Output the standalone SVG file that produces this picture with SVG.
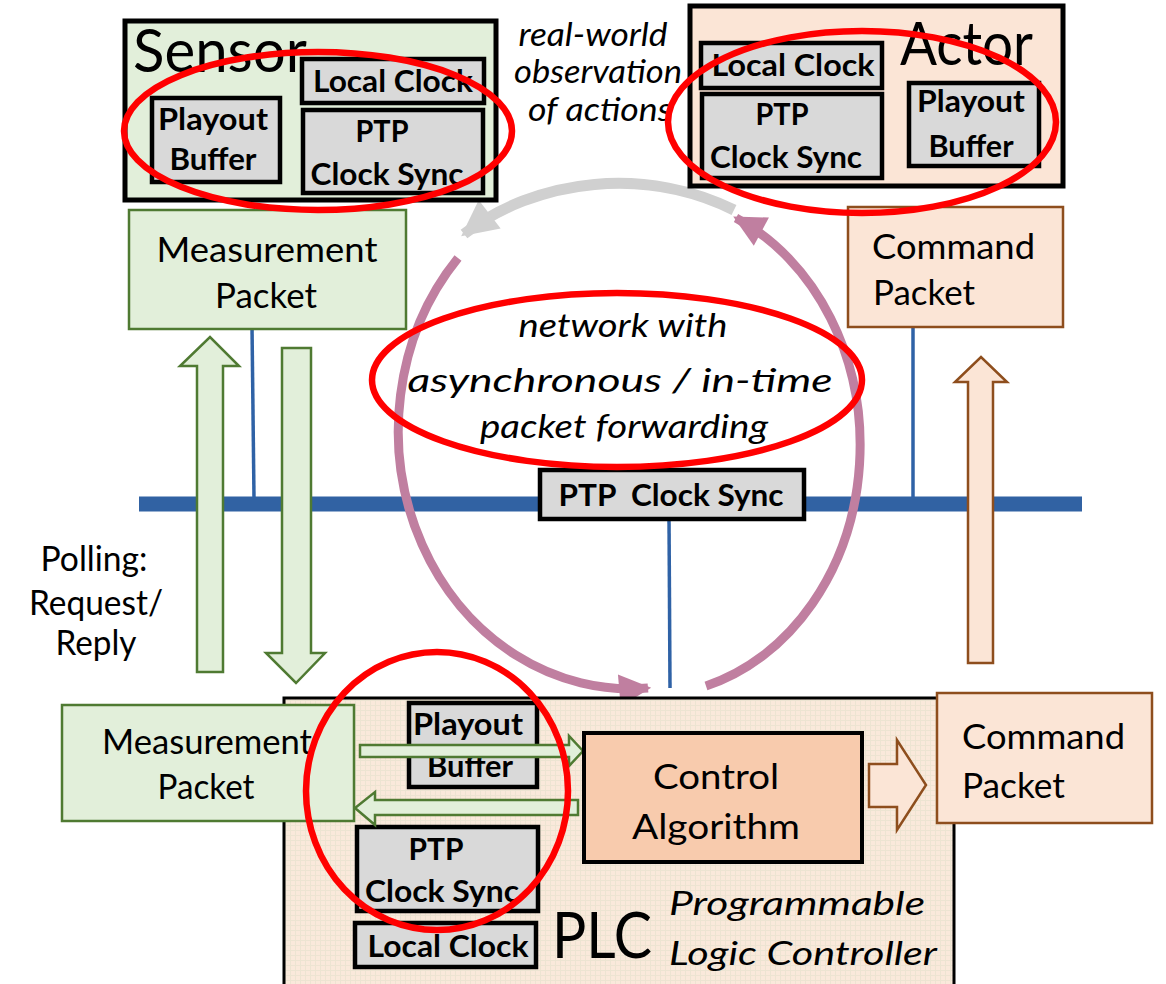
<svg xmlns="http://www.w3.org/2000/svg" width="1166" height="984" viewBox="0 0 1166 984">
<style>
text{font-family:Lato,"Open Sans","Liberation Sans",sans-serif;fill:#000}
.big{font-size:60px}
.bx{font-size:30px;font-weight:bold;text-anchor:middle}
.pk{font-size:34px}
.pkc{font-size:34px;text-anchor:middle}
.it{font-style:italic;font-size:33px}
.itc{font-style:italic;font-size:33px;text-anchor:middle}
.gbox{fill:#d9d9d9;stroke:#000;stroke-width:4.5}
.green{fill:#e2efda;stroke:#4f7a32;stroke-width:2.5}
.peach{fill:#fbe5d6;stroke:#8e4e1d;stroke-width:2.5}
.bline{stroke:#2f62a6;stroke-width:3.5;fill:none}
.red{fill:none;stroke:#ff0000;stroke-width:6.5}
.pink{fill:none;stroke:#c07fa0;stroke-width:9}
</style>
<defs>
<pattern id="grid" width="5" height="5" patternUnits="userSpaceOnUse">
<rect width="5" height="5" fill="#fae9db"/>
<path d="M0 0.5H5M0.5 0V5" stroke="#ede4d2" stroke-width="1"/>
</pattern>
<marker id="pinkhead" viewBox="0 0 10 10" refX="9" refY="5" markerUnits="userSpaceOnUse" markerWidth="36" markerHeight="32" orient="auto">
<path d="M0 0L10 5L0 10z" fill="#c07fa0"/>
</marker>
<marker id="grayhead" viewBox="0 0 10 10" refX="9" refY="5" markerUnits="userSpaceOnUse" markerWidth="38" markerHeight="36" orient="auto">
<path d="M0 0L10 5L0 10z" fill="#d0d0d0"/>
</marker>
</defs>

<rect width="1166" height="984" fill="#fff"/>

<!-- network bus and links -->
<g id="connectors">
<line x1="139" y1="504" x2="1082" y2="504" stroke="#3162a3" stroke-width="15"/>
<line class="bline" x1="252" y1="326" x2="254" y2="498"/>
<line class="bline" x1="913" y1="327" x2="913" y2="498"/>
<line class="bline" x1="669" y1="518" x2="670" y2="688"/>
<!-- block arrows -->
<polygon class="green" points="197,672 223,672 223,366 239,366 210,337 180,366 197,366"/>
<polygon class="green" points="282,348 311,348 311,653 325,653 296,683 266,653 282,653"/>
<polygon class="peach" points="968,663 993,663 993,382 1007,382 981,357 955,382 968,382"/>
<!-- circular flow -->
<path d="M734 210 A232 200 0 0 0 464 234" stroke="#d0d0d0" stroke-width="11" fill="none" marker-end="url(#grayhead)"/>
<path class="pink" d="M458 258 A232 258 0 0 0 648 688" marker-end="url(#pinkhead)"/>
<path class="pink" d="M706 686 A212 250 0 0 0 736 218" marker-end="url(#pinkhead)"/>
</g>

<!-- Sensor -->
<g id="sensor">
<rect x="125" y="21" width="371" height="179" fill="#e2efda" stroke="#000" stroke-width="5"/>
<text class="big" x="133" y="72" textLength="174" lengthAdjust="spacingAndGlyphs">Sensor</text>
<rect class="gbox" x="302" y="59" width="182" height="44"/>
<text class="bx" x="393" y="92" textLength="160" lengthAdjust="spacingAndGlyphs">Local Clock</text>
<rect class="gbox" x="152" y="98" width="128" height="84"/>
<text class="bx" x="213" y="130" textLength="110" lengthAdjust="spacingAndGlyphs">Playout</text>
<text class="bx" x="213" y="170" textLength="87" lengthAdjust="spacingAndGlyphs">Buffer</text>
<rect class="gbox" x="303" y="110" width="180" height="83"/>
<text class="bx" x="382" y="142" textLength="53" lengthAdjust="spacingAndGlyphs">PTP</text>
<text class="bx" x="387" y="185" textLength="153" lengthAdjust="spacingAndGlyphs">Clock Sync</text>
</g>

<!-- Actor -->
<g id="actor">
<rect x="690" y="6" width="373" height="180" fill="#fbe5d6" stroke="#000" stroke-width="5"/>
<text class="big" x="900" y="65" font-size="58" textLength="133" lengthAdjust="spacingAndGlyphs">Actor</text>
<rect class="gbox" x="701" y="43" width="181" height="45"/>
<text class="bx" x="793" y="76" textLength="163" lengthAdjust="spacingAndGlyphs">Local Clock</text>
<rect class="gbox" x="702" y="94" width="180" height="84"/>
<text class="bx" x="782" y="125" textLength="53" lengthAdjust="spacingAndGlyphs">PTP</text>
<text class="bx" x="786" y="168" textLength="152" lengthAdjust="spacingAndGlyphs">Clock Sync</text>
<rect class="gbox" x="909" y="83" width="130" height="83"/>
<text class="bx" x="971" y="112" textLength="108" lengthAdjust="spacingAndGlyphs">Playout</text>
<text class="bx" x="971" y="157" textLength="85" lengthAdjust="spacingAndGlyphs">Buffer</text>
</g>

<!-- real-world label -->
<g id="realworld">
<text class="itc" x="593" y="46" font-size="28" textLength="149" lengthAdjust="spacingAndGlyphs">real-world</text>
<text class="itc" x="598" y="83" font-size="28" textLength="168" lengthAdjust="spacingAndGlyphs">observation</text>
<text class="itc" x="600" y="121" font-size="28" textLength="144" lengthAdjust="spacingAndGlyphs">of actions</text>
</g>

<!-- Measurement Packet (top) -->
<g id="meas-top">
<rect class="green" x="129" y="210" width="277" height="119"/>
<text class="pkc" x="267" y="262" textLength="221" lengthAdjust="spacingAndGlyphs">Measurement</text>
<text class="pkc" x="266" y="308" textLength="102" lengthAdjust="spacingAndGlyphs">Packet</text>
</g>

<!-- Command Packet (top) -->
<g id="cmd-top">
<rect class="peach" x="848" y="207" width="215" height="120"/>
<text class="pk" x="872" y="259" textLength="163" lengthAdjust="spacingAndGlyphs">Command</text>
<text class="pk" x="873" y="305" textLength="102" lengthAdjust="spacingAndGlyphs">Packet</text>
</g>

<!-- network label -->
<g id="network">
<text class="itc" x="623" y="337" textLength="209" lengthAdjust="spacingAndGlyphs">network with</text>
<text class="itc" x="620" y="392" font-size="44" textLength="425" lengthAdjust="spacingAndGlyphs">asynchronous / in-time</text>
<text class="itc" x="624" y="438" textLength="288" lengthAdjust="spacingAndGlyphs">packet forwarding</text>
</g>

<!-- PTP clock sync on bus -->
<g id="ptp-bus">
<rect class="gbox" x="540" y="470" width="264" height="49"/>
<text class="bx" x="671" y="506" textLength="225" lengthAdjust="spacingAndGlyphs" xml:space="preserve">PTP  Clock Sync</text>
</g>

<!-- Polling -->
<g id="polling">
<text class="pkc" x="94" y="571" font-size="31" textLength="107" lengthAdjust="spacingAndGlyphs">Polling:</text>
<text class="pkc" x="96" y="615" font-size="31" textLength="134" lengthAdjust="spacingAndGlyphs">Request/</text>
<text class="pkc" x="96" y="655" font-size="31" textLength="81" lengthAdjust="spacingAndGlyphs">Reply</text>
</g>

<!-- PLC -->
<g id="plc">
<rect x="284" y="698" width="670" height="300" fill="url(#grid)" stroke="#000" stroke-width="3"/>
<rect class="gbox" x="409" y="703" width="128" height="84"/>
<text class="bx" x="468" y="735" textLength="110" lengthAdjust="spacingAndGlyphs">Playout</text>
<text class="bx" x="470" y="777" textLength="86" lengthAdjust="spacingAndGlyphs">Buffer</text>
<rect class="gbox" x="357" y="827" width="181" height="84"/>
<text class="bx" x="436" y="860" textLength="55" lengthAdjust="spacingAndGlyphs">PTP</text>
<text class="bx" x="442" y="902" textLength="154" lengthAdjust="spacingAndGlyphs">Clock Sync</text>
<rect class="gbox" x="355" y="923" width="181" height="44"/>
<text class="bx" x="448" y="957" textLength="161" lengthAdjust="spacingAndGlyphs">Local Clock</text>
<text x="552" y="958" font-size="64" textLength="100" lengthAdjust="spacingAndGlyphs">PLC</text>
<text class="it" x="669" y="915" font-size="35" textLength="256" lengthAdjust="spacingAndGlyphs">Programmable</text>
<text class="it" x="669" y="965" font-size="35" textLength="268" lengthAdjust="spacingAndGlyphs">Logic Controller</text>
<polygon class="green" points="360,745 569,745 569,736 583,751 569,766 569,757 360,757"/>
<polygon class="green" points="578,800 375,800 375,792 355,808 375,825 375,815 578,815"/>
</g>

<g id="control">
<rect x="584" y="733" width="278" height="129" fill="#f8cbad" stroke="#000" stroke-width="4"/>
<text class="pkc" x="716" y="789" font-size="37" textLength="126" lengthAdjust="spacingAndGlyphs">Control</text>
<text class="pkc" x="716" y="839" font-size="37" textLength="168" lengthAdjust="spacingAndGlyphs">Algorithm</text>
<polygon class="peach" points="869,764 897,764 897,740 926,785 897,830 897,807 869,807"/>
</g>

<!-- Measurement Packet (bottom) -->
<g id="meas-bottom">
<rect class="green" x="62" y="705" width="292" height="116"/>
<text class="pkc" x="207" y="754" textLength="210" lengthAdjust="spacingAndGlyphs">Measurement</text>
<text class="pkc" x="206" y="799" textLength="97" lengthAdjust="spacingAndGlyphs">Packet</text>
</g>

<!-- Command Packet (bottom) -->
<g id="cmd-bottom">
<rect class="peach" x="937" y="693" width="215" height="130"/>
<text class="pk" x="962" y="749" textLength="163" lengthAdjust="spacingAndGlyphs">Command</text>
<text class="pk" x="962" y="798" textLength="103" lengthAdjust="spacingAndGlyphs">Packet</text>
</g>

<!-- highlight ellipses -->
<g id="highlights">
<ellipse class="red" cx="318" cy="131" rx="194" ry="79"/>
<ellipse class="red" cx="862" cy="122" rx="194" ry="91"/>
<ellipse class="red" cx="617" cy="380" rx="245" ry="87"/>
<ellipse class="red" cx="437" cy="791" rx="131" ry="139"/>
</g>
</svg>
